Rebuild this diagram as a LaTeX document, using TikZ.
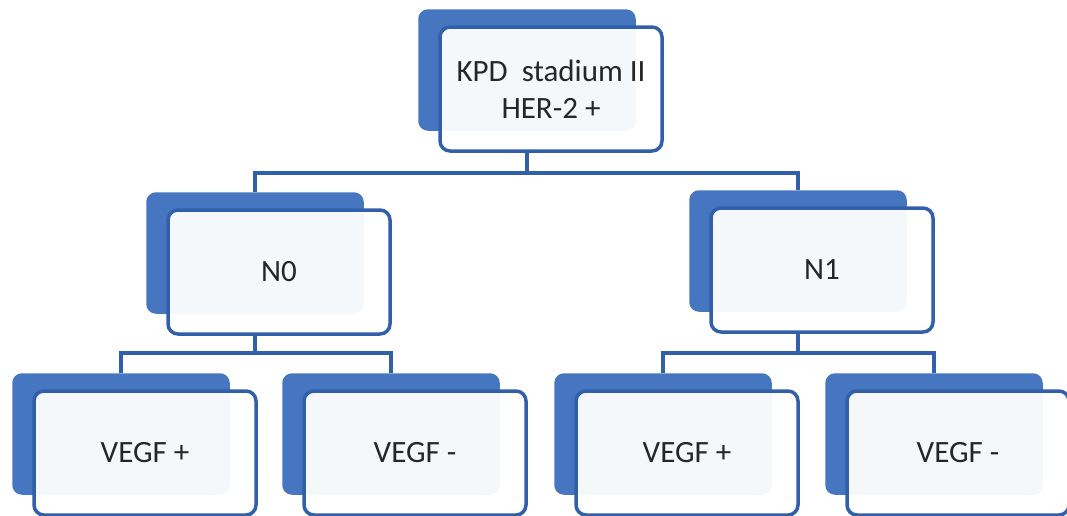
\documentclass[tikz,border=0pt]{standalone}
\usepackage{fontspec}
\setmainfont{Carlito}
\definecolor{boxblue}{RGB}{70,118,192}
\definecolor{linkblue}{RGB}{50,95,170}
\begin{document}
\begin{tikzpicture}[x=1pt,y=-1pt,
  backbox/.style={draw=boxblue, fill=boxblue, line width=1.5pt, rounded corners=9pt,
    minimum width=216pt, minimum height=120pt, inner sep=0pt},
  frontbox/.style={draw=linkblue, line width=3.5pt, fill=white, fill opacity=0.95, text opacity=1,
    rounded corners=10pt, minimum width=222pt, minimum height=124pt, inner sep=0pt,
    align=center, font=\fontsize{31}{37}\selectfont, text=black!85},
  link/.style={draw=linkblue, line width=4pt}]
\useasboundingbox (0,0) rectangle (1067,515);
\clip (0,0) rectangle (1067,515);
% level 0
\node[backbox] (topb) at (527,70) {};
\node[frontbox] (top) at (551,89) {KPD\ \ stadium II\\HER-2 +};
% level 1
\node[backbox] (n0b) at (255,253) {};
\node[frontbox] (n0) at (279,272) {N0};
\node[backbox] (n1b) at (798,251) {};
\node[frontbox] (n1) at (822,270) {N1};
% level 2
\node[backbox] (v1b) at (121,434) {};
\node[frontbox] (v1) at (145,453) {VEGF +};
\node[backbox] (v2b) at (391,434) {};
\node[frontbox] (v2) at (415,453) {VEGF -};
\node[backbox] (v3b) at (663,434) {};
\node[frontbox] (v3) at (687,453) {VEGF +};
\node[backbox] (v4b) at (934,434) {};
\node[frontbox] (v4) at (958,453) {VEGF -};
% connectors
\path (topb.center) ++(0,103) coordinate (j0);
\draw[link] (topb |- top.south) -- (j0);
\draw[link] (n0b.north) |- (j0) -| (n1b.north);
\path (n0b.center) ++(0,100) coordinate (j1);
\draw[link] (n0b |- n0.south) -- (j1);
\draw[link] (v1b.north) |- (j1) -| (v2b.north);
\path (n1b.center) ++(0,102) coordinate (j2);
\draw[link] (n1b |- n1.south) -- (j2);
\draw[link] (v3b.north) |- (j2) -| (v4b.north);
\end{tikzpicture}
\end{document}
